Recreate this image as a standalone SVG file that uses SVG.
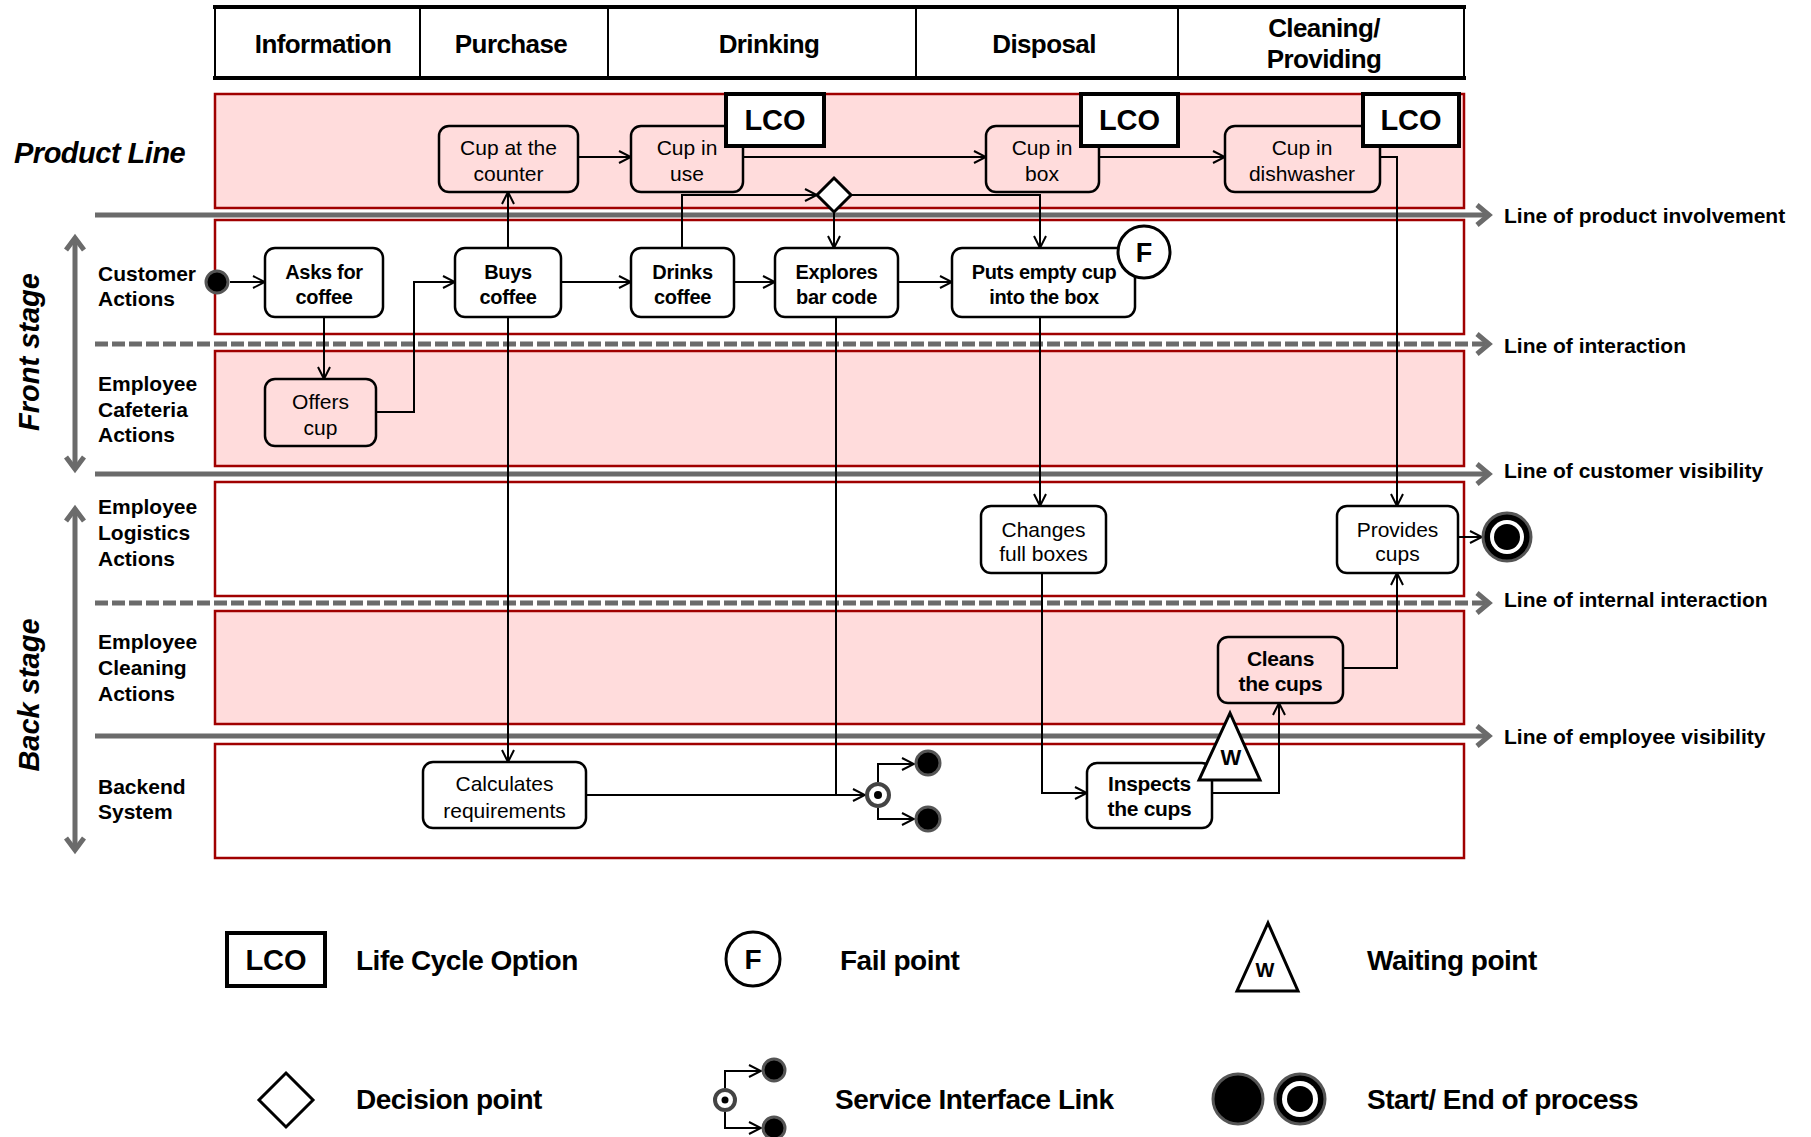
<svg xmlns="http://www.w3.org/2000/svg" width="1811" height="1137" viewBox="0 0 1811 1137">
<style>
  text { font-family: "Liberation Sans", Arial, Helvetica, sans-serif; fill: #000; }
  .hdr { font-size: 26px; font-weight: bold; letter-spacing: -0.6px; text-anchor: middle; }
  .lane-pink { fill: #FFDCDC; stroke: #A00000; stroke-width: 2.5; }
  .lane-white { fill: #FFFFFF; stroke: #A00000; stroke-width: 2.5; }
  .lbl { font-size: 21px; font-weight: bold; }
  .stage { font-size: 29px; font-weight: bold; font-style: italic; text-anchor: middle; }
  .gline { stroke: #6B6B6B; stroke-width: 5; fill: none; }
  .gdash { stroke: #6B6B6B; stroke-width: 5; stroke-dasharray: 13 4; fill: none; }
  .ghead { stroke: #6B6B6B; stroke-width: 5; fill: none; stroke-linejoin: miter; }
  .node { stroke: #000; stroke-width: 2.5; }
  .pn { fill: #FFDCDC; }
  .wn { fill: #FFFFFF; }
  .nt { font-size: 21px; text-anchor: middle; }
  .nb { font-size: 20px; font-weight: bold; text-anchor: middle; letter-spacing: -0.3px; }
  .nb21 { font-size: 21px; font-weight: bold; text-anchor: middle; letter-spacing: -0.3px; }
  .lco { fill: #FFFFFF; stroke: #000; stroke-width: 4; }
  .lcot { font-size: 29px; font-weight: bold; text-anchor: middle; }
  .conn { stroke: #000; stroke-width: 2; fill: none; marker-end: url(#ah); }
  .conn-plain { stroke: #000; stroke-width: 2; fill: none; }
  .linelbl { font-size: 21px; font-weight: bold; }
  .leg { font-size: 28px; font-weight: bold; letter-spacing: -0.5px; }
  .sym { fill: #FFFFFF; stroke: #000; stroke-width: 3; }
  .dot { fill: #000; stroke: #555; stroke-width: 3; }
</style>
<defs>
  <marker id="ah" viewBox="0 0 14 14" refX="13" refY="7" markerWidth="14" markerHeight="14" markerUnits="userSpaceOnUse" orient="auto">
    <path d="M1,1 L13,7 L1,13" fill="none" stroke="#000" stroke-width="2"/>
  </marker>
</defs>

<!-- phase header -->
<g id="phases">
  <rect x="215" y="7" width="1249" height="71" fill="#FFFFFF" stroke="#000" stroke-width="2"/>
  <line x1="213" y1="7" x2="1466" y2="7" stroke="#000" stroke-width="4"/>
  <line x1="213" y1="78" x2="1466" y2="78" stroke="#000" stroke-width="4"/>
  <line x1="420" y1="7" x2="420" y2="78" stroke="#000" stroke-width="2"/>
  <line x1="608" y1="7" x2="608" y2="78" stroke="#000" stroke-width="2"/>
  <line x1="916" y1="7" x2="916" y2="78" stroke="#000" stroke-width="2"/>
  <line x1="1178" y1="7" x2="1178" y2="78" stroke="#000" stroke-width="2"/>
  <text class="hdr" x="323" y="53">Information</text>
  <text class="hdr" x="511" y="53">Purchase</text>
  <text class="hdr" x="769" y="53">Drinking</text>
  <text class="hdr" x="1044" y="53">Disposal</text>
  <text class="hdr" x="1324" y="37">Cleaning/</text>
  <text class="hdr" x="1324" y="68">Providing</text>
</g>

<!-- swimlanes -->
<g id="lanes">
  <rect class="lane-pink" x="215" y="94" width="1249" height="114"/>
  <rect class="lane-white" x="215" y="220" width="1249" height="114"/>
  <rect class="lane-pink" x="215" y="351" width="1249" height="115"/>
  <rect class="lane-white" x="215" y="482" width="1249" height="114"/>
  <rect class="lane-pink" x="215" y="611" width="1249" height="113"/>
  <rect class="lane-white" x="215" y="744" width="1249" height="114"/>
</g>

<!-- lane and stage labels -->
<g id="lane-labels">
  <text x="14" y="163" font-size="29" font-weight="bold" font-style="italic" letter-spacing="-0.5">Product Line</text>
  <text class="lbl" x="98" y="281">Customer</text>
  <text class="lbl" x="98" y="306">Actions</text>
  <text class="lbl" x="98" y="391">Employee</text>
  <text class="lbl" x="98" y="417">Cafeteria</text>
  <text class="lbl" x="98" y="442">Actions</text>
  <text class="lbl" x="98" y="514">Employee</text>
  <text class="lbl" x="98" y="540">Logistics</text>
  <text class="lbl" x="98" y="566">Actions</text>
  <text class="lbl" x="98" y="649">Employee</text>
  <text class="lbl" x="98" y="675">Cleaning</text>
  <text class="lbl" x="98" y="701">Actions</text>
  <text class="lbl" x="98" y="794">Backend</text>
  <text class="lbl" x="98" y="819">System</text>
  <text class="stage" transform="translate(39,352) rotate(-90)">Front stage</text>
  <text class="stage" transform="translate(39,695) rotate(-90)">Back stage</text>
</g>

<!-- stage extent arrows -->
<g id="stage-arrows">
  <line class="gline" x1="75" y1="239" x2="75" y2="468" stroke-width="4"/>
  <polyline class="ghead" points="66,250 75,238 84,250" stroke-width="4"/>
  <polyline class="ghead" points="66,457 75,469 84,457" stroke-width="4"/>
  <line class="gline" x1="75" y1="510" x2="75" y2="849" stroke-width="4"/>
  <polyline class="ghead" points="66,521 75,509 84,521" stroke-width="4"/>
  <polyline class="ghead" points="66,838 75,850 84,838" stroke-width="4"/>
</g>

<!-- blueprint lines -->
<g id="blueprint-lines">
  <line class="gline" x1="95" y1="215" x2="1486" y2="215" stroke-width="6"/>
  <polyline class="ghead" points="1477,205 1489,215 1477,225"/>
  <line class="gdash" x1="95" y1="344" x2="1486" y2="344"/>
  <polyline class="ghead" points="1477,334 1489,344 1477,354"/>
  <line class="gline" x1="95" y1="474" x2="1486" y2="474"/>
  <polyline class="ghead" points="1477,464 1489,474 1477,484"/>
  <line class="gdash" x1="95" y1="603" x2="1486" y2="603"/>
  <polyline class="ghead" points="1477,593 1489,603 1477,613"/>
  <line class="gline" x1="95" y1="736" x2="1486" y2="736"/>
  <polyline class="ghead" points="1477,726 1489,736 1477,746"/>
  <text class="linelbl" x="1504" y="223">Line of product involvement</text>
  <text class="linelbl" x="1504" y="353">Line of interaction</text>
  <text class="linelbl" x="1504" y="478">Line of customer visibility</text>
  <text class="linelbl" x="1504" y="607">Line of internal interaction</text>
  <text class="linelbl" x="1504" y="744">Line of employee visibility</text>
</g>

<!-- connectors -->
<g id="connectors">
  <path class="conn" d="M230,282 H265"/>
  <path class="conn" d="M324,317 V379"/>
  <path class="conn" d="M376,412 H414 V282 H455"/>
  <path class="conn" d="M561,282 H631"/>
  <path class="conn" d="M734,282 H775"/>
  <path class="conn" d="M898,282 H952"/>
  <path class="conn" d="M508,248 V192"/>
  <path class="conn" d="M578,157 H631"/>
  <path class="conn" d="M743,157 H986"/>
  <path class="conn" d="M1099,157 H1225"/>
  <path class="conn" d="M682,248 V195 H817"/>
  <path class="conn" d="M834,211 V248"/>
  <path class="conn" d="M851,195 H1040 V248"/>
  <path class="conn-plain" d="M836,317 V795"/>
  <path class="conn" d="M508,317 V762"/>
  <path class="conn" d="M586,795 H865"/>
  <path class="conn" d="M1040,317 V506"/>
  <path class="conn" d="M1042,573 V793 H1087"/>
  <path class="conn" d="M1212,793 H1279 V703"/>
  <path class="conn" d="M1343,668 H1397 V573"/>
  <path class="conn" d="M1380,157 H1397 V506"/>
  <path class="conn" d="M1458,537 H1482"/>
  <path class="conn" d="M878,782 V764 H914"/>
  <path class="conn" d="M878,808 V819 H914"/>
</g>

<!-- product line -->
<g id="cup-counter">
  <rect class="node pn" x="439" y="126" width="139" height="66" rx="10"/>
  <text class="nt" x="508.5" y="154.5">Cup at the</text>
  <text class="nt" x="508.5" y="180.5">counter</text>
</g>
<g id="cup-in-use">
  <rect class="node pn" x="631" y="126" width="112" height="66" rx="10"/>
  <text class="nt" x="687" y="154.5">Cup in</text>
  <text class="nt" x="687" y="180.5">use</text>
  <rect class="lco" x="726" y="94" width="98" height="52"/>
  <text class="lcot" x="775" y="130">LCO</text>
</g>
<g id="cup-in-box">
  <rect class="node pn" x="986" y="126" width="113" height="66" rx="10"/>
  <text class="nt" x="1042" y="154.5">Cup in</text>
  <text class="nt" x="1042" y="180.5">box</text>
  <rect class="lco" x="1081" y="94" width="97" height="52"/>
  <text class="lcot" x="1129.5" y="130">LCO</text>
</g>
<g id="cup-in-dishwasher">
  <rect class="node pn" x="1225" y="126" width="155" height="66" rx="10"/>
  <text class="nt" x="1302" y="154.5">Cup in</text>
  <text class="nt" x="1302" y="180.5">dishwasher</text>
  <rect class="lco" x="1363" y="94" width="96" height="52"/>
  <text class="lcot" x="1411" y="130">LCO</text>
</g>
<g id="decision">
  <polygon class="sym" points="834,178 851,195 834,212 817,195"/>
</g>

<!-- customer actions -->
<g id="start">
  <circle class="dot" cx="217" cy="282" r="11"/>
</g>
<g id="asks-for-coffee">
  <rect class="node wn" x="265" y="248" width="118" height="69" rx="10"/>
  <text class="nb" x="324" y="279">Asks for</text>
  <text class="nb" x="324" y="304">coffee</text>
</g>
<g id="buys-coffee">
  <rect class="node wn" x="455" y="248" width="106" height="69" rx="10"/>
  <text class="nb" x="508" y="279">Buys</text>
  <text class="nb" x="508" y="304">coffee</text>
</g>
<g id="drinks-coffee">
  <rect class="node wn" x="631" y="248" width="103" height="69" rx="10"/>
  <text class="nb" x="682.5" y="279">Drinks</text>
  <text class="nb" x="682.5" y="304">coffee</text>
</g>
<g id="explores-bar-code">
  <rect class="node wn" x="775" y="248" width="123" height="69" rx="10"/>
  <text class="nb" x="836.5" y="279">Explores</text>
  <text class="nb" x="836.5" y="304">bar code</text>
</g>
<g id="puts-empty-cup">
  <rect class="node wn" x="952" y="248" width="183" height="69" rx="10"/>
  <text class="nb" x="1044" y="279">Puts empty cup</text>
  <text class="nb" x="1044" y="304">into the box</text>
  <circle class="sym" cx="1144" cy="252" r="26"/>
  <text x="1144" y="262" font-size="27" font-weight="bold" text-anchor="middle">F</text>
</g>

<!-- employee cafeteria -->
<g id="offers-cup">
  <rect class="node pn" x="265" y="379" width="111" height="67" rx="10"/>
  <text class="nt" x="320.5" y="408.5">Offers</text>
  <text class="nt" x="320.5" y="434.5">cup</text>
</g>

<!-- employee logistics -->
<g id="changes-full-boxes">
  <rect class="node wn" x="981" y="506" width="125" height="67" rx="10"/>
  <text class="nt" x="1043.5" y="536.5">Changes</text>
  <text class="nt" x="1043.5" y="560.5">full boxes</text>
</g>
<g id="provides-cups">
  <rect class="node wn" x="1337" y="506" width="121" height="67" rx="10"/>
  <text class="nt" x="1397.5" y="536.5">Provides</text>
  <text class="nt" x="1397.5" y="560.5">cups</text>
</g>
<g id="end">
  <circle cx="1507" cy="537" r="24" fill="#000" stroke="#555" stroke-width="3"/>
  <circle cx="1507" cy="537" r="17" fill="#FFFFFF"/>
  <circle cx="1507" cy="537" r="13" fill="#000"/>
</g>

<!-- employee cleaning -->
<g id="cleans-the-cups">
  <rect class="node pn" x="1218" y="637" width="125" height="66" rx="10"/>
  <text class="nb21" x="1280.5" y="665.5">Cleans</text>
  <text class="nb21" x="1280.5" y="690.5">the cups</text>
</g>

<!-- backend system -->
<g id="calculates-requirements">
  <rect class="node wn" x="423" y="762" width="163" height="66" rx="10"/>
  <text class="nt" x="504.5" y="790.5">Calculates</text>
  <text class="nt" x="504.5" y="817.5">requirements</text>
</g>
<g id="inspects-the-cups">
  <rect class="node wn" x="1087" y="763" width="125" height="65" rx="10"/>
  <text class="nb21" x="1149.5" y="790.5">Inspects</text>
  <text class="nb21" x="1149.5" y="815.5">the cups</text>
</g>
<g id="waiting-point">
  <polygon class="sym" points="1230,713 1260,780 1199,780"/>
  <text x="1231" y="765" font-size="22" font-weight="bold" text-anchor="middle">W</text>
</g>
<g id="service-interface-link">
  <circle cx="878" cy="795" r="11" fill="#FFFFFF" stroke="#444" stroke-width="4"/>
  <circle cx="878" cy="795" r="4" fill="#000"/>
  <circle class="dot" cx="928" cy="763" r="12"/>
  <circle class="dot" cx="928" cy="819" r="12"/>
</g>

<!-- legend -->
<g id="legend">
  <rect class="lco" x="227" y="933" width="98" height="53"/>
  <text class="lcot" x="276" y="970">LCO</text>
  <text class="leg" x="356" y="970">Life Cycle Option</text>

  <circle class="sym" cx="753" cy="959" r="27"/>
  <text x="753" y="969" font-size="28" font-weight="bold" text-anchor="middle">F</text>
  <text class="leg" x="840" y="970">Fail point</text>

  <polygon class="sym" points="1268,923 1298,991 1237,991"/>
  <text x="1265" y="977" font-size="20" font-weight="bold" text-anchor="middle">W</text>
  <text class="leg" x="1367" y="970">Waiting point</text>

  <polygon class="sym" points="286,1073 313,1100 286,1127 259,1100"/>
  <text class="leg" x="356" y="1109">Decision point</text>

  <path class="conn" d="M725,1088 V1071 H761"/>
  <path class="conn" d="M725,1112 V1128 H761"/>
  <circle cx="725" cy="1100" r="10" fill="#FFFFFF" stroke="#444" stroke-width="4"/>
  <circle cx="725" cy="1100" r="3.5" fill="#000"/>
  <circle class="dot" cx="774" cy="1070" r="11"/>
  <circle class="dot" cx="774" cy="1128" r="11"/>
  <text class="leg" x="835" y="1109">Service Interface Link</text>

  <circle cx="1238" cy="1099" r="25" fill="#000" stroke="#555" stroke-width="3"/>
  <circle cx="1300" cy="1099" r="25" fill="#000" stroke="#555" stroke-width="3"/>
  <circle cx="1300" cy="1099" r="18" fill="#FFFFFF"/>
  <circle cx="1300" cy="1099" r="13" fill="#000"/>
  <text class="leg" x="1367" y="1109">Start/ End of process</text>
</g>
</svg>
